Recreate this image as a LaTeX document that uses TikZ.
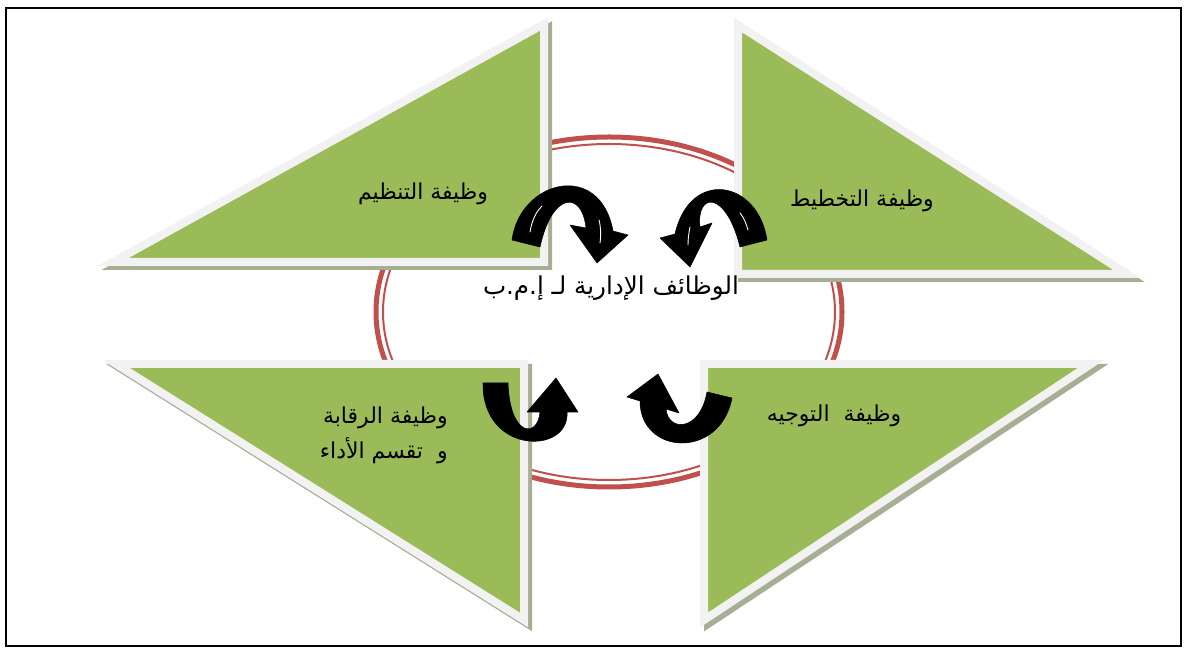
\documentclass[tikz,border=0pt]{standalone}
\usepackage{fontspec}
\newfontfamily\arabicfont[Script=Arabic]{DejaVu Sans}
\TeXXeTstate=1
\definecolor{leaf}{HTML}{9BBB59}
\definecolor{rim}{HTML}{F2F2F2}
\definecolor{shade}{RGB}{166,175,148}
\definecolor{ring}{HTML}{C0504D}
\begin{document}
\begin{tikzpicture}[x=0.02cm,y=-0.02cm,
  panel/.style={fill=leaf,draw=rim,line width=0.16cm,line join=miter,miter limit=10},
  panelshadow/.style={fill=shade,draw=shade,line width=0.16cm,line join=miter,miter limit=10},
  turn/.style={fill=black,draw=black,line width=0.3pt,line join=round},
  gloss/.style={draw=white,line width=0.5pt,line cap=round},
  label/.style={font=\arabicfont\fontsize{12.5}{20}\selectfont,text=black,inner sep=0pt},
  title/.style={font=\arabicfont\fontsize{14}{20}\selectfont,text=black,inner sep=0pt}]
\useasboundingbox (0,0) rectangle (1187,651);
% outer frame
\draw[line width=0.6pt] (6,8) rectangle (1181,646);
% double red ring behind the panels
\draw[ring,line width=0.1cm] (609,312) ellipse [x radius=233,y radius=175];
\draw[ring,line width=0.04cm] (609,312) ellipse [x radius=226,y radius=168];
% shadows of the four panels
\draw[panelshadow,shift={(4,4)}] (544,24) -- (544,262) -- (113,262) -- cycle;
\draw[panelshadow,shift={(4,4)}] (738,25) -- (1127,274) -- (738,274) -- cycle;
\draw[panelshadow,shift={(4,4)}] (116,364) -- (524,364) -- (524,620) -- cycle;
\draw[panelshadow,shift={(4,4)}] (704,364) -- (1091,364) -- (704,620) -- cycle;
% the four panels
\draw[panel] (544,24) -- (544,262) -- (113,262) -- cycle;
\draw[panel] (738,25) -- (1127,274) -- (738,274) -- cycle;
\draw[panel] (116,364) -- (524,364) -- (524,620) -- cycle;
\draw[panel] (704,364) -- (1091,364) -- (704,620) -- cycle;
% curved arrows
\filldraw[turn] (512,240) .. controls (520,180) and (600,160) .. (613,231) -- (628,235) -- (597,263) -- (570,225) -- (586,228) .. controls (582,190) and (552,192) .. (540,247) -- cycle;
\draw[gloss] (530,232) .. controls (532,220) and (536,212) .. (542,206);
\draw[gloss] (600,243) .. controls (601,235) and (601,228) .. (599,220);
\filldraw[turn] (767,240) .. controls (758,180) and (690,168) .. (675,234) -- (660,238) -- (690,267) -- (712,223) -- (700,227) .. controls (696,192) and (726,190) .. (740,247) -- cycle;
\draw[gloss] (688,245) .. controls (688,238) and (689,232) .. (690,227);
\draw[gloss] (748,230) .. controls (746,223) and (744,218) .. (740,213);
\filldraw[turn] (483,383) .. controls (482,455) and (570,455) .. (567,412) -- (578,412) -- (556,378) -- (527,412) -- (540,412) .. controls (538,438) and (510,438) .. (508,383) -- cycle;
\filldraw[turn] (732,398) .. controls (720,460) and (640,455) .. (640,401) -- (627,397) -- (658,374) -- (679,413) -- (666,409) .. controls (668,432) and (700,432) .. (707,392) -- cycle;
% labels
\node[label] (organise) at (423,194) {\beginR وظيفة التنظيم\endR};
\node[label] (plan) at (862,201) {\beginR وظيفة التخطيط\endR};
\node[title] (centre) at (611,288) {\beginR الوظائف الإدارية لـ إ.م.ب\endR};
\node[label,anchor=east,align=right] (control) at (448,435) {\beginR وظيفة الرقابة\endR\\\beginR و\ \ تقسم الأداء\endR};
\node[label] (direct) at (834,416) {\beginR وظيفة\ \ التوجيه\endR};
\end{tikzpicture}
\end{document}
